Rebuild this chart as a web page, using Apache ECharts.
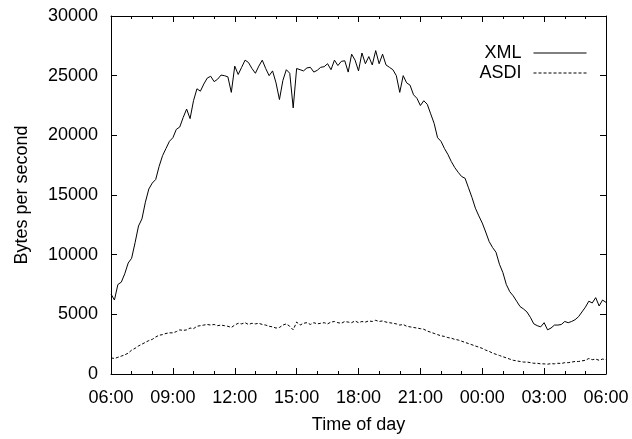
<!DOCTYPE html>
<html>
<head>
<meta charset="utf-8">
<script src="https://cdn.jsdelivr.net/npm/echarts@6/dist/echarts.min.js"></script>
<style>html,body{margin:0;padding:0;background:#fff}#c{width:632px;height:439px}</style>
</head>
<body>
<div id="c"></div>
<script>
// sample step (minutes) starting at 06:00
var stepMinutes = 10;
var startHour = 6;
var xmlValues = [
6700,6200,7500,7700,8400,9300,9700,11000,12400,13000,
14400,15500,16000,16300,17400,18300,18900,19500,19800,20500,
20700,21500,22200,21400,22900,23900,23700,24300,24800,24950,
24500,24700,25050,25000,24900,23600,25800,25100,25700,26300,
26100,25600,25200,25800,26300,25600,25000,25400,24400,23000,
24600,25500,25200,22300,25600,25500,25400,25650,25700,25300,
25450,25700,25750,26000,25500,26300,25850,26200,26250,25300,
26800,26300,25400,26900,26000,26600,25900,27100,26000,26800,
25900,25700,25500,25000,23600,25000,24400,24200,23400,23100,
22500,22900,22600,21800,21000,19800,19500,18900,18400,17800,
17300,16900,16550,16400,15600,14800,13900,13250,12650,11900,
11100,10600,10200,9200,8500,7500,6900,6550,6100,5650,
5450,5200,4750,4200,4050,3950,4300,3700,3850,4100,
4100,4150,4400,4300,4400,4550,4800,5200,5600,6100,
5950,6400,5700,6200,6000
];
var asdiValues = [
1350,1300,1400,1500,1600,1750,2000,2150,2350,2500,
2650,2800,2900,3100,3250,3300,3400,3450,3450,3550,
3700,3650,3700,3850,3800,4000,4050,4100,4150,4100,
4150,4050,4100,4050,4000,3900,4100,4250,4200,4300,
4150,4250,4200,4250,4150,4100,4000,3950,3850,3900,
4100,4200,4000,3700,4350,4100,4250,4300,4150,4300,
4200,4250,4300,4200,4350,4400,4300,4250,4400,4350,
4300,4450,4300,4400,4350,4450,4400,4500,4400,4450,
4350,4300,4250,4200,4100,4150,4000,3950,3900,3850,
3800,3750,3600,3500,3400,3300,3200,3150,3050,3000,
2900,2850,2750,2650,2550,2450,2350,2250,2150,2000,
1900,1750,1650,1550,1450,1350,1250,1150,1100,1050,
1000,1000,950,900,900,850,850,820,870,850,
900,880,950,950,1000,1050,1050,1100,1150,1300,
1200,1250,1150,1250,1200
];
var seriesNames = ['XML', 'ASDI'];
var xTitle = 'Time of day';
var yTitle = 'Bytes per second';

function toPairs(arr){ return arr.map(function(v,i){ return [i*stepMinutes, v]; }); }
function fmtTime(m){
  var h = (startHour + Math.round(m/60)) % 24;
  return (h<10?'0':'') + h + ':00';
}
function fmtNum(v){ return String(v); }
var FONT = 'Liberation Sans, Arial, sans-serif';
function txt(extra){
  var o = {color:'#000', fontFamily: FONT, fontSize: 18};
  for (var k in extra) o[k] = extra[k];
  return o;
}
function axisLine(){ return {show:true, onZero:false, lineStyle:{color:'#000', width:1}}; }
function tick(len){ return {show:true, inside:true, length:len, lineStyle:{color:'#000', width:1}}; }
function xAxisDef(pos, interval, len, showLine, labels){
  var a = {
    type:'value', min:0, max:1440, interval:interval, position:pos, z:20, zlevel:1,
    axisLine: showLine ? axisLine() : {show:false, onZero:false},
    axisTick: tick(len),
    axisLabel: labels ? txt({formatter:fmtTime, margin:15}) : {show:false},
    splitLine:{show:false}
  };
  if (labels) {
    a.name = xTitle; a.nameLocation = 'middle'; a.nameGap = 42; a.nameTextStyle = txt({});
  }
  return a;
}
function yAxisDef(pos, labels){
  var a = {
    type:'value', min:0, max:30000, interval:5000, position:pos, z:20, zlevel:1,
    axisLine: axisLine(), axisTick: tick(6),
    axisLabel: labels ? txt({formatter:fmtNum, margin:13}) : {show:false},
    splitLine:{show:false}
  };
  if (labels) {
    a.name = yTitle; a.nameLocation = 'middle'; a.nameGap = 80; a.nameRotate = 90; a.nameTextStyle = txt({});
  }
  return a;
}
var chart = echarts.init(document.getElementById('c'));
chart.setOption({
  animation:false,
  backgroundColor:'#fff',
  grid:{left:111, right:26, top:16, bottom:57},
  legend:{
    orient:'vertical', right:45, top:44, align:'right', padding:0,
    itemWidth:53, itemHeight:10, itemGap:2,
    itemStyle:{opacity:0},
    lineStyle:{width:1},
    textStyle:{color:'#000', fontFamily:FONT, fontSize:18, lineHeight:18, padding:[0,7,0,0]},
    data:seriesNames,
    selectedMode:false
  },
  xAxis:[
    xAxisDef('bottom', 180, 6, true, true),
    xAxisDef('top', 180, 6, true, false),
    xAxisDef('bottom', 60, 3, false, false),
    xAxisDef('top', 60, 3, false, false)
  ],
  yAxis:[ yAxisDef('left', true), yAxisDef('right', false) ],
  series:[{
    name:seriesNames[0], type:'line', xAxisIndex:0, yAxisIndex:0,
    data:toPairs(xmlValues), showSymbol:false, symbol:'none',
    lineStyle:{color:'#000', width:1}, itemStyle:{color:'#000'}
  },{
    name:seriesNames[1], type:'line', xAxisIndex:0, yAxisIndex:0,
    data:toPairs(asdiValues), showSymbol:false, symbol:'none',
    lineStyle:{color:'#000', width:1, type:[3,2]}, itemStyle:{color:'#000'}
  }]
});
</script>
</body>
</html>
